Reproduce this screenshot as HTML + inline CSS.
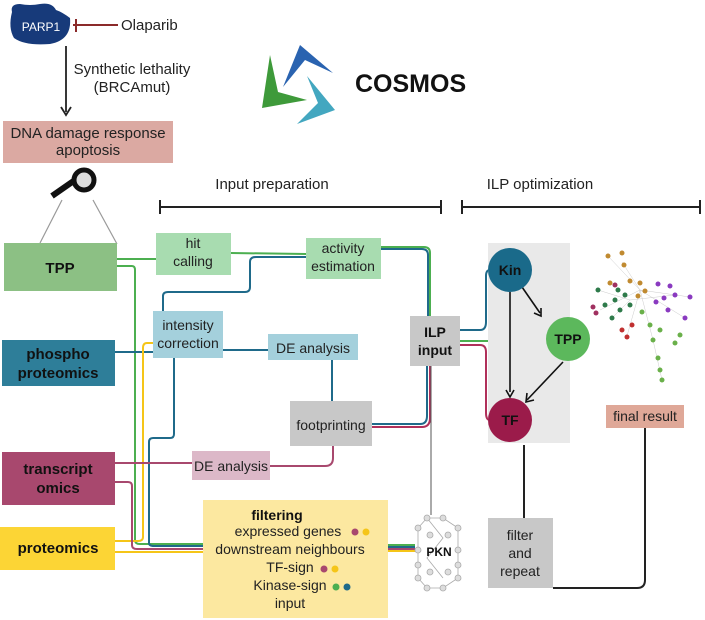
<!DOCTYPE html>
<html><head><meta charset="utf-8"><style>
body{margin:0;background:#fff;}
svg{display:block;font-family:"Liberation Sans",sans-serif;}
</style></head><body>
<svg width="705" height="620" viewBox="0 0 705 620" xmlns="http://www.w3.org/2000/svg">
<!-- PARP1 -->
<path d="M12,12 Q10,4 20,4 Q30,6 40,4 Q52,2 56,10 Q62,12 70,18 Q72,40 50,44 Q25,46 14,38 Q8,28 12,12Z" fill="#173a7a"/>
<text x="41" y="31" font-size="12" fill="#fff" text-anchor="middle">PARP1</text>
<line x1="73" y1="25" x2="118" y2="25" stroke="#8b2a2a" stroke-width="2"/>
<line x1="76" y1="19" x2="76" y2="32" stroke="#8b2a2a" stroke-width="2"/>
<text x="121" y="30" font-size="15" fill="#222">Olaparib</text>
<line x1="66" y1="46" x2="66" y2="112" stroke="#222" stroke-width="1.8"/>
<path d="M61,107 L66,115 L71,107" fill="none" stroke="#222" stroke-width="1.8"/>
<text x="132" y="74" font-size="15" fill="#222" text-anchor="middle">Synthetic lethality</text>
<text x="132" y="92" font-size="15" fill="#222" text-anchor="middle">(BRCAmut)</text>
<rect x="3" y="121" width="170" height="42" fill="#dba9a2"/>
<text x="88" y="138" font-size="15" fill="#222" text-anchor="middle">DNA damage response</text>
<text x="88" y="155" font-size="15" fill="#222" text-anchor="middle">apoptosis</text>
<!-- magnifier -->
<line x1="52" y1="196" x2="75" y2="180" stroke="#111" stroke-width="6"/>
<circle cx="84" cy="180" r="10" fill="#ddd" stroke="#111" stroke-width="5"/>
<line x1="62" y1="200" x2="40" y2="243" stroke="#999" stroke-width="1.2"/>
<line x1="93" y1="200" x2="117" y2="244" stroke="#999" stroke-width="1.2"/>
<!-- logo -->
<polygon points="283,87 300,45 333,73 305,60" fill="#2a63b0"/>
<polygon points="270,55 262,108 307,100 278,92" fill="#3e9a3a"/>
<polygon points="307,76 335,110 297,124 318,103" fill="#43a7c0"/>
<text x="355" y="92" font-size="25" font-weight="bold" fill="#111">COSMOS</text>
<!-- headers -->
<text x="272" y="189" font-size="15" fill="#222" text-anchor="middle">Input preparation</text>
<line x1="160" y1="207" x2="441" y2="207" stroke="#222" stroke-width="2"/>
<line x1="160" y1="200" x2="160" y2="214" stroke="#222" stroke-width="2"/>
<line x1="441" y1="200" x2="441" y2="214" stroke="#222" stroke-width="2"/>
<text x="540" y="189" font-size="15" fill="#222" text-anchor="middle">ILP optimization</text>
<line x1="462" y1="207" x2="700" y2="207" stroke="#222" stroke-width="2"/>
<line x1="462" y1="200" x2="462" y2="214" stroke="#222" stroke-width="2"/>
<line x1="700" y1="200" x2="700" y2="214" stroke="#222" stroke-width="2"/>
<!-- connectors -->
<g fill="none" stroke-width="2">
<path d="M117,259 L157,259" stroke="#4caf50"/>
<path d="M231,253 L306,254" stroke="#4caf50"/>
<path d="M381,247 L424,247 Q430,247 430,253 L430,318" stroke="#4caf50"/>
<path d="M381,249 L422,249 Q428,249 428,255 L428,318" stroke="#1f6a8a"/>
<path d="M163,311 L163,296 Q163,292 168,292 L245,292 Q250,292 250,287 L250,262 Q250,257 256,257 L306,257" stroke="#1f6a8a"/>
<path d="M117,266 L132,266 Q135,266 135,270 L135,540 Q135,544 140,544 L203,544" stroke="#4caf50"/>
<path d="M115,352 L153,352" stroke="#1f6a8a"/>
<path d="M223,350 L268,350" stroke="#1f6a8a"/>
<path d="M332,360 L332,401" stroke="#1f6a8a"/>
<path d="M174,358 L174,434 Q174,438 170,438 L153,438 Q149,438 149,442 L149,543 Q149,546 154,546 L203,546" stroke="#1f6a8a"/>
<path d="M153,343 L147,343 Q143,343 143,348 L143,537 Q143,541 138,541 L115,541" stroke="#f5c518"/>
<path d="M372,424 L420,424 Q427,424 427,416 L427,366" stroke="#1f6a8a"/>
<path d="M372,427 L422,427 Q430,427 430,418 L430,366" stroke="#b0305a"/>
<path d="M431,366 L431,515" stroke="#555" stroke-width="1"/>
<path d="M115,463 L192,463" stroke="#a8486e"/>
<path d="M270,466 L325,466 Q333,466 333,458 L333,446" stroke="#a8486e"/>
<path d="M115,482 L128,482 Q132,482 132,486 L132,545 Q132,549 137,549 L203,549" stroke="#a8486e"/>
<path d="M115,552 L203,552" stroke="#f5c518"/>
<path d="M388,545 L415,545" stroke="#4caf50"/>
<path d="M388,547 L415,547" stroke="#1f6a8a"/>
<path d="M388,549 L415,549" stroke="#a8486e"/>
<path d="M388,551 L415,551" stroke="#f5c518"/>
<path d="M460,330 L480,330 Q486,330 486,322 L486,276 Q486,270 490,270" stroke="#1f6a8a"/>
<path d="M460,341 L488,341" stroke="#4caf50"/>
<path d="M460,345 L480,345 Q486,345 486,352 L486,413 Q486,420 490,420" stroke="#b0305a"/>
<path d="M524,445 L524,518" stroke="#222"/>
<path d="M645,428 L645,580 Q645,588 637,588 L553,588" stroke="#222"/>
</g>
<!-- boxes -->
<rect x="4" y="243" width="113" height="48" fill="#8cc084"/>
<text x="60" y="273" font-size="15" font-weight="bold" fill="#111" text-anchor="middle">TPP</text>
<rect x="2" y="340" width="113" height="46" fill="#2e7e99"/>
<text x="58" y="359" font-size="15" font-weight="bold" fill="#111" text-anchor="middle">phospho</text>
<text x="58" y="378" font-size="15" font-weight="bold" fill="#111" text-anchor="middle">proteomics</text>
<rect x="2" y="452" width="113" height="53" fill="#a8486e"/>
<text x="58" y="474" font-size="15" font-weight="bold" fill="#111" text-anchor="middle">transcript</text>
<text x="58" y="493" font-size="15" font-weight="bold" fill="#111" text-anchor="middle">omics</text>
<rect x="0" y="527" width="115" height="43" fill="#fcd535"/>
<text x="58" y="553" font-size="15" font-weight="bold" fill="#111" text-anchor="middle">proteomics</text>
<rect x="156" y="233" width="75" height="42" fill="#a8dcb0"/>
<text x="193" y="248" font-size="14" fill="#222" text-anchor="middle">hit</text>
<text x="193" y="266" font-size="14" fill="#222" text-anchor="middle">calling</text>
<rect x="306" y="238" width="75" height="41" fill="#a8dcb0"/>
<text x="343" y="253" font-size="14" fill="#222" text-anchor="middle">activity</text>
<text x="343" y="271" font-size="14" fill="#222" text-anchor="middle">estimation</text>
<rect x="153" y="311" width="70" height="47" fill="#a4d0dc"/>
<text x="188" y="330" font-size="14" fill="#222" text-anchor="middle">intensity</text>
<text x="188" y="348" font-size="14" fill="#222" text-anchor="middle">correction</text>
<rect x="268" y="334" width="90" height="26" fill="#a4d0dc"/>
<text x="313" y="353" font-size="14" fill="#222" text-anchor="middle">DE analysis</text>
<rect x="290" y="401" width="82" height="45" fill="#c8c8c8"/>
<text x="331" y="430" font-size="14" fill="#222" text-anchor="middle">footprinting</text>
<rect x="192" y="451" width="78" height="29" fill="#dcb8c8"/>
<text x="231" y="471" font-size="14" fill="#222" text-anchor="middle">DE analysis</text>
<rect x="203" y="500" width="185" height="118" fill="#fce8a0"/>
<text x="277" y="520" font-size="14" font-weight="bold" fill="#111" text-anchor="middle">filtering</text>
<text x="288" y="536" font-size="14" fill="#222" text-anchor="middle">expressed genes</text>
<circle cx="355" cy="532" r="3.5" fill="#a8486e"/><circle cx="366" cy="532" r="3.5" fill="#f5c518"/>
<text x="290" y="554" font-size="14" fill="#222" text-anchor="middle">downstream neighbours</text>
<text x="290" y="572" font-size="14" fill="#222" text-anchor="middle">TF-sign</text>
<circle cx="324" cy="569" r="3.5" fill="#a8486e"/><circle cx="335" cy="569" r="3.5" fill="#f5c518"/>
<text x="290" y="590" font-size="14" fill="#222" text-anchor="middle">Kinase-sign</text>
<circle cx="336" cy="587" r="3.5" fill="#4caf50"/><circle cx="347" cy="587" r="3.5" fill="#1f6a8a"/>
<text x="290" y="608" font-size="14" fill="#222" text-anchor="middle">input</text>
<rect x="410" y="316" width="50" height="50" fill="#c8c8c8"/>
<text x="435" y="337" font-size="14" font-weight="bold" fill="#111" text-anchor="middle">ILP</text>
<text x="435" y="355" font-size="14" font-weight="bold" fill="#111" text-anchor="middle">input</text>
<!-- PKN -->
<g fill="#ddd" stroke="#aaa" stroke-width="0.8">
<path d="M427,518 L443,518 L458,528 L458,578 L443,588 L427,588 L418,578 L418,528Z M427,518 L443,538 L427,558 L443,578" fill="none"/>
<circle cx="427" cy="518" r="3"/><circle cx="443" cy="518" r="3"/><circle cx="458" cy="528" r="3"/><circle cx="418" cy="528" r="3"/>
<circle cx="430" cy="535" r="3"/><circle cx="448" cy="535" r="3"/><circle cx="418" cy="550" r="3"/><circle cx="458" cy="550" r="3"/>
<circle cx="418" cy="565" r="3"/><circle cx="458" cy="565" r="3"/><circle cx="430" cy="572" r="3"/><circle cx="448" cy="572" r="3"/>
<circle cx="418" cy="578" r="3"/><circle cx="458" cy="578" r="3"/><circle cx="427" cy="588" r="3"/><circle cx="443" cy="588" r="3"/>
</g>
<text x="439" y="556" font-size="12" font-weight="bold" fill="#111" text-anchor="middle">PKN</text>
<!-- ILP panel -->
<rect x="488" y="243" width="82" height="200" fill="#e9e9e9"/>
<line x1="510" y1="292" x2="510" y2="392" stroke="#111" stroke-width="1.6"/>
<path d="M506,390 L510,397 L514,390" fill="none" stroke="#111" stroke-width="1.6"/>
<line x1="522" y1="287" x2="540" y2="313" stroke="#111" stroke-width="1.6"/>
<path d="M534,313 L541,316 L541,308" fill="none" stroke="#111" stroke-width="1.6"/>
<line x1="563" y1="362" x2="527" y2="400" stroke="#111" stroke-width="1.6"/>
<path d="M527,393 L526,402 L534,400" fill="none" stroke="#111" stroke-width="1.6"/>
<circle cx="510" cy="270" r="22" fill="#1a6a8a"/>
<text x="510" y="275" font-size="14" font-weight="bold" fill="#111" text-anchor="middle">Kin</text>
<circle cx="568" cy="339" r="22" fill="#5cb85c"/>
<text x="568" y="344" font-size="14" font-weight="bold" fill="#111" text-anchor="middle">TPP</text>
<circle cx="510" cy="420" r="22" fill="#9b1b4a"/>
<text x="510" y="425" font-size="14" font-weight="bold" fill="#111" text-anchor="middle">TF</text>
<!-- hairball -->
<g stroke="#ccc" stroke-width="0.5">
<line x1="640" y1="290" x2="608" y2="256"/><line x1="640" y1="290" x2="690" y2="297"/><line x1="640" y1="290" x2="600" y2="310"/>
<line x1="640" y1="290" x2="653" y2="340"/><line x1="653" y1="340" x2="662" y2="380"/><line x1="640" y1="290" x2="685" y2="318"/>
<line x1="640" y1="290" x2="627" y2="336"/><line x1="640" y1="290" x2="622" y2="262"/>
<line x1="630" y1="300" x2="598" y2="290"/><line x1="630" y1="300" x2="675" y2="295"/><line x1="630" y1="300" x2="612" y2="318"/>
</g>
<g>
<circle cx="608" cy="256" r="2.5" fill="#c08a30"/><circle cx="622" cy="253" r="2.5" fill="#c08a30"/><circle cx="624" cy="265" r="2.5" fill="#c08a30"/>
<circle cx="610" cy="283" r="2.5" fill="#c08a30"/><circle cx="630" cy="281" r="2.5" fill="#c08a30"/><circle cx="640" cy="283" r="2.5" fill="#c08a30"/>
<circle cx="645" cy="291" r="2.5" fill="#c08a30"/><circle cx="638" cy="296" r="2.5" fill="#c08a30"/>
<circle cx="658" cy="284" r="2.5" fill="#8a3ac0"/><circle cx="670" cy="286" r="2.5" fill="#8a3ac0"/><circle cx="675" cy="295" r="2.5" fill="#8a3ac0"/>
<circle cx="690" cy="297" r="2.5" fill="#8a3ac0"/><circle cx="685" cy="318" r="2.5" fill="#8a3ac0"/><circle cx="668" cy="310" r="2.5" fill="#8a3ac0"/>
<circle cx="656" cy="302" r="2.5" fill="#8a3ac0"/><circle cx="664" cy="298" r="2.5" fill="#8a3ac0"/>
<circle cx="598" cy="290" r="2.5" fill="#2e7a4a"/><circle cx="605" cy="305" r="2.5" fill="#2e7a4a"/><circle cx="615" cy="300" r="2.5" fill="#2e7a4a"/>
<circle cx="620" cy="310" r="2.5" fill="#2e7a4a"/><circle cx="612" cy="318" r="2.5" fill="#2e7a4a"/><circle cx="625" cy="295" r="2.5" fill="#2e7a4a"/>
<circle cx="630" cy="305" r="2.5" fill="#2e7a4a"/><circle cx="618" cy="290" r="2.5" fill="#2e7a4a"/>
<circle cx="593" cy="307" r="2.5" fill="#a03060"/><circle cx="596" cy="313" r="2.5" fill="#a03060"/><circle cx="615" cy="285" r="2.5" fill="#a03060"/>
<circle cx="622" cy="330" r="2.5" fill="#c03030"/><circle cx="627" cy="337" r="2.5" fill="#c03030"/><circle cx="632" cy="325" r="2.5" fill="#c03030"/>
<circle cx="642" cy="312" r="2.5" fill="#6ab04a"/><circle cx="650" cy="325" r="2.5" fill="#6ab04a"/><circle cx="660" cy="330" r="2.5" fill="#6ab04a"/>
<circle cx="653" cy="340" r="2.5" fill="#6ab04a"/><circle cx="658" cy="358" r="2.5" fill="#6ab04a"/><circle cx="660" cy="370" r="2.5" fill="#6ab04a"/>
<circle cx="662" cy="380" r="2.5" fill="#6ab04a"/><circle cx="680" cy="335" r="2.5" fill="#6ab04a"/><circle cx="675" cy="343" r="2.5" fill="#6ab04a"/>
</g>
<rect x="606" y="405" width="78" height="23" fill="#dfa898"/>
<text x="645" y="421" font-size="14" fill="#222" text-anchor="middle">final result</text>
<rect x="488" y="518" width="65" height="70" fill="#c8c8c8"/>
<text x="520" y="540" font-size="14" fill="#222" text-anchor="middle">filter</text>
<text x="520" y="558" font-size="14" fill="#222" text-anchor="middle">and</text>
<text x="520" y="576" font-size="14" fill="#222" text-anchor="middle">repeat</text>
</svg>
</body></html>
